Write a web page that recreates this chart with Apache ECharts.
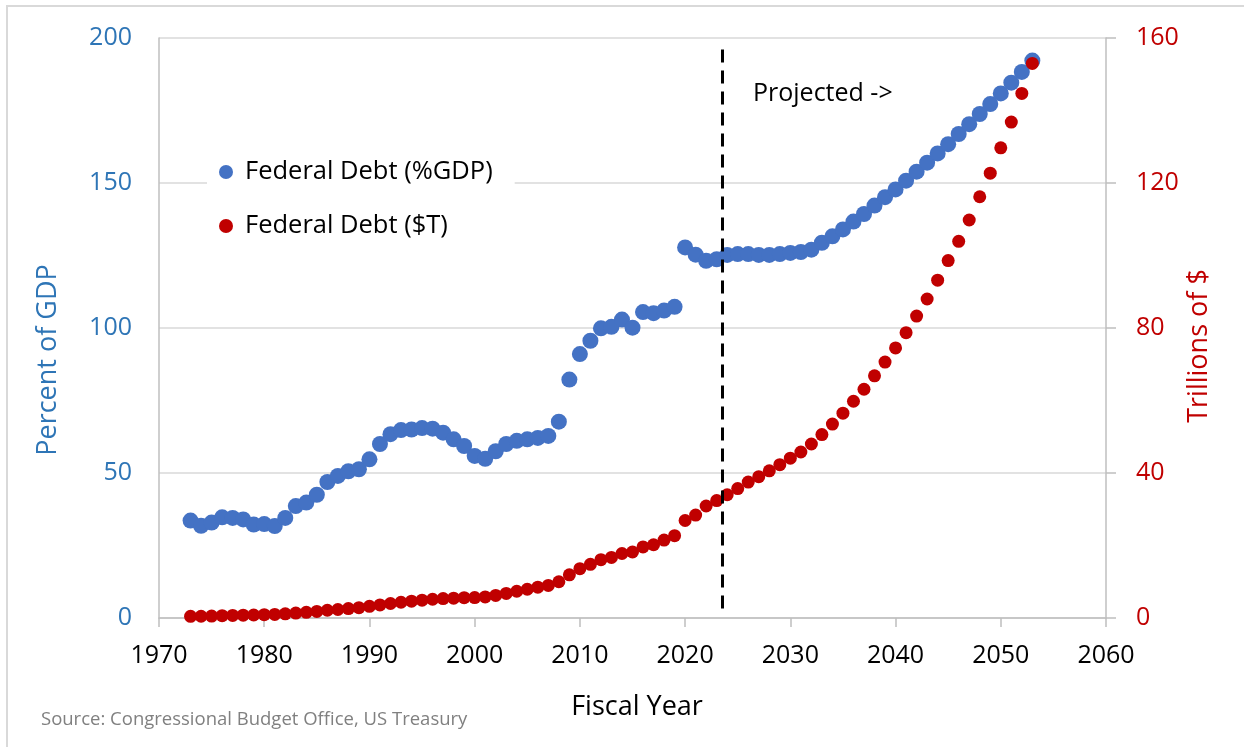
<!DOCTYPE html>
<html>
<head>
<meta charset="utf-8">
<title>Federal Debt</title>
<script src="https://cdn.jsdelivr.net/npm/echarts@6/dist/echarts.min.js"></script>
<style>
  html, body { margin: 0; padding: 0; background: #fff; }
  #chart { width: 1244px; height: 747px; }
</style>
</head>
<body>
<div id="chart"></div>
<script>
// Fiscal years covered by both series
const years = [
  1973, 1974, 1975, 1976, 1977, 1978, 1979, 1980, 1981, 1982,
  1983, 1984, 1985, 1986, 1987, 1988, 1989, 1990, 1991, 1992,
  1993, 1994, 1995, 1996, 1997, 1998, 1999, 2000, 2001, 2002,
  2003, 2004, 2005, 2006, 2007, 2008, 2009, 2010, 2011, 2012,
  2013, 2014, 2015, 2016, 2017, 2018, 2019, 2020, 2021, 2022,
  2023, 2024, 2025, 2026, 2027, 2028, 2029, 2030, 2031, 2032,
  2033, 2034, 2035, 2036, 2037, 2038, 2039, 2040, 2041, 2042,
  2043, 2044, 2045, 2046, 2047, 2048, 2049, 2050, 2051, 2052,
  2053
];

// Federal debt as a percent of GDP
const debtPctGdp = [
  33.6, 31.8, 32.9, 34.7, 34.5, 34.0, 32.2, 32.4, 31.7, 34.5,
  38.6, 39.8, 42.5, 46.9, 49.0, 50.6, 51.3, 54.7, 60.0, 63.4,
  64.8, 65.0, 65.5, 65.3, 63.9, 61.6, 59.3, 55.9, 54.9, 57.5,
  60.0, 61.1, 61.6, 62.1, 62.8, 67.7, 82.2, 91.0, 95.6, 99.9,
  100.4, 102.9, 100.1, 105.5, 105.1, 106.0, 107.3, 127.8, 125.3, 123.2,
  123.7, 125.2, 125.5, 125.5, 125.2, 125.2, 125.5, 125.9, 126.2, 127.0,
  129.4, 131.6, 134.0, 136.7, 139.3, 142.2, 145.1, 147.8, 150.8, 153.9,
  157.0, 160.2, 163.4, 166.9, 170.3, 173.8, 177.2, 180.9, 184.6, 188.3,
  192.2
];

// Federal debt in trillions of dollars
const debtTrillions = [
  0.47, 0.49, 0.54, 0.63, 0.71, 0.78, 0.83, 0.91, 1.0, 1.14,
  1.37, 1.56, 1.82, 2.13, 2.35, 2.6, 2.86, 3.21, 3.6, 4.0,
  4.35, 4.64, 4.92, 5.18, 5.37, 5.48, 5.6, 5.63, 5.81, 6.23,
  6.78, 7.38, 7.93, 8.51, 9.0, 10.0, 11.9, 13.6, 14.8, 16.1,
  16.7, 17.8, 18.2, 19.6, 20.2, 21.5, 22.7, 26.9, 28.4, 30.9,
  32.4, 34.0, 35.7, 37.5, 39.0, 40.6, 42.3, 44.1, 45.8, 48.0,
  50.6, 53.5, 56.5, 59.8, 63.1, 66.8, 70.6, 74.5, 78.7, 83.3,
  88.0, 93.2, 98.6, 103.9, 109.8, 116.2, 122.7, 129.7, 136.8, 144.7,
  153.0
];

// Axis ranges and tick steps
const yearAxis = { min: 1970, max: 2060, step: 10 };
const pctAxis = { min: 0, max: 200, step: 50 };
const dollarAxis = { min: 0, max: 160, step: 40 };

// Boundary between actual and projected years, and the span of the divider
const projectionStart = 2023.5;
const dividerSpan = [196, 2];

const seriesNames = ['Federal Debt (%GDP)', 'Federal Debt ($T)'];
const FONT = '"Open Sans", "Liberation Sans", sans-serif';
const BLUE = '#4472C4';
const RED = '#C00000';
const AXIS_GRAY = '#BFBFBF';
const GRID_GRAY = '#D9D9D9';

const chart = echarts.init(document.getElementById('chart'), null, { renderer: 'canvas' });

const option = {
  backgroundColor: '#fff',
  animation: false,
  textStyle: { fontFamily: FONT },
  grid: { left: 159, right: 138, top: 38, bottom: 129, containLabel: false },
  legend: {
    orient: 'vertical',
    left: 207,
    top: 147,
    padding: [10, 22, 10, 12],
    backgroundColor: '#fff',
    itemWidth: 14,
    itemHeight: 14,
    itemGap: 24,
    icon: 'circle',
    itemStyle: { opacity: 1 },
    textStyle: {
      fontFamily: FONT,
      fontSize: 25.5,
      color: '#000',
      lineHeight: 30,
      padding: [0, 0, 0, 7]
    },
    data: seriesNames
  },
  xAxis: {
    type: 'value',
    min: yearAxis.min,
    max: yearAxis.max,
    interval: yearAxis.step,
    axisLine: { show: true, lineStyle: { color: AXIS_GRAY, width: 1.5 } },
    axisTick: { show: true, length: 9, lineStyle: { color: AXIS_GRAY, width: 1.5 } },
    splitLine: { show: false },
    axisLabel: {
      color: '#000', fontSize: 25, fontFamily: FONT, margin: 25,
      formatter: v => String(v)
    }
  },
  yAxis: [
    {
      type: 'value',
      position: 'left',
      min: pctAxis.min,
      max: pctAxis.max,
      interval: pctAxis.step,
      axisLine: { show: true, lineStyle: { color: AXIS_GRAY, width: 1.5 } },
      axisTick: { show: false },
      splitLine: { show: true, lineStyle: { color: GRID_GRAY, width: 1.5 } },
      axisLabel: { color: '#2E75B6', fontSize: 25, fontFamily: FONT, margin: 27 }
    },
    {
      type: 'value',
      position: 'right',
      min: dollarAxis.min,
      max: dollarAxis.max,
      interval: dollarAxis.step,
      axisLine: { show: true, lineStyle: { color: AXIS_GRAY, width: 1.5 } },
      axisTick: { show: true, length: 10, lineStyle: { color: AXIS_GRAY, width: 1.5 } },
      splitLine: { show: false },
      axisLabel: { color: RED, fontSize: 25, fontFamily: FONT, margin: 30 }
    }
  ],
  series: [
    {
      name: seriesNames[0],
      type: 'scatter',
      yAxisIndex: 0,
      symbol: 'circle',
      symbolSize: 16,
      itemStyle: { color: BLUE, opacity: 1 },
      emphasis: { disabled: true },
      data: years.map((y, i) => [y, debtPctGdp[i]]),
      markLine: {
        silent: true,
        symbol: ['none', 'none'],
        label: { show: false },
        lineStyle: { color: '#000', width: 3, type: [13, 8], opacity: 1 },
        data: [[
          { coord: [projectionStart, dividerSpan[0]] },
          { coord: [projectionStart, dividerSpan[1]] }
        ]]
      }
    },
    {
      name: seriesNames[1],
      type: 'scatter',
      yAxisIndex: 1,
      symbol: 'circle',
      symbolSize: 13,
      itemStyle: { color: RED, opacity: 1 },
      emphasis: { disabled: true },
      data: years.map((y, i) => [y, debtTrillions[i]])
    }
  ],
  graphic: [
    {
      type: 'rect',
      silent: true,
      z: -1,
      shape: { x: 7, y: 6, width: 1260, height: 770 },
      style: { fill: null, stroke: GRID_GRAY, lineWidth: 2 }
    },
    {
      type: 'text',
      x: 48, y: 360,
      rotation: Math.PI / 2,
      style: {
        text: 'Percent of GDP',
        fill: '#2E75B6',
        font: '27px ' + FONT,
        textAlign: 'center',
        textVerticalAlign: 'middle'
      }
    },
    {
      type: 'text',
      x: 1199, y: 346,
      rotation: Math.PI / 2,
      style: {
        text: 'Trillions of $',
        fill: RED,
        font: '27px ' + FONT,
        textAlign: 'center',
        textVerticalAlign: 'middle'
      }
    },
    {
      type: 'text',
      x: 637, y: 707,
      style: {
        text: 'Fiscal Year',
        fill: '#000',
        font: '27px ' + FONT,
        textAlign: 'center',
        textVerticalAlign: 'middle'
      }
    },
    {
      type: 'text',
      x: 753, y: 94,
      style: {
        text: 'Projected ->',
        fill: '#000',
        font: '25px ' + FONT,
        textAlign: 'left',
        textVerticalAlign: 'middle'
      }
    },
    {
      type: 'text',
      x: 41, y: 720,
      style: {
        text: 'Source: Congressional Budget Office, US Treasury',
        fill: '#808080',
        font: '18.5px ' + FONT,
        textAlign: 'left',
        textVerticalAlign: 'middle'
      }
    }
  ]
};

chart.setOption(option);
</script>
</body>
</html>
